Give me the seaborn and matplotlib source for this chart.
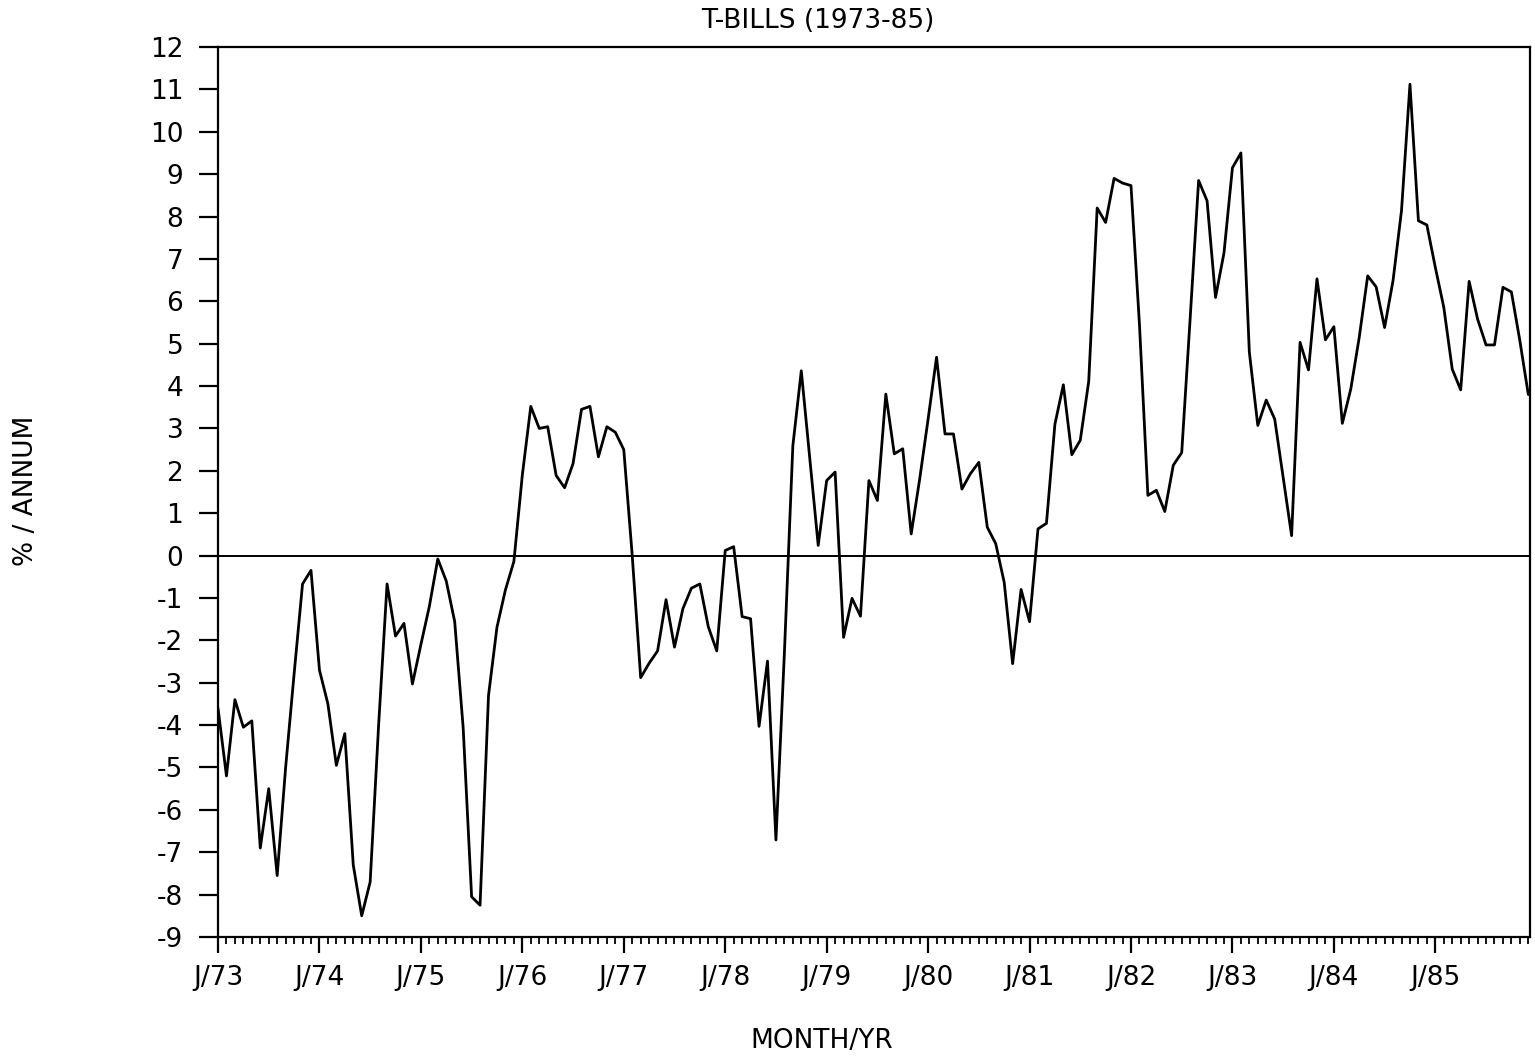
import numpy as np
import pandas as pd
import matplotlib
matplotlib.use("Agg")
import matplotlib.pyplot as plt
import seaborn as sns
from matplotlib.ticker import MultipleLocator, FixedLocator

title = "T-BILLS (1973-85)"
x_label = "MONTH/YR"
y_label = "% / ANNUM"
year_labels = ["J/73", "J/74", "J/75", "J/76", "J/77", "J/78", "J/79",
               "J/80", "J/81", "J/82", "J/83", "J/84", "J/85"]
y_ticks = list(range(-9, 13))

values_1973_75 = [-3.6, -5.2, -3.4, -4.05, -3.9, -6.9, -5.5, -7.55, -5.0, -2.8, -0.67, -0.35,
                  -2.7, -3.5, -4.95, -4.2, -7.3, -8.5, -7.7, -4.0, -0.67, -1.9, -1.6, -3.03,
                  -2.1, -1.2, -0.08, -0.6, -1.56, -4.06, -8.05, -8.25, -3.3, -1.69, -0.81, -0.14]
values_1976_78 = [1.9, 3.52, 3.0, 3.04, 1.89, 1.6, 2.17, 3.45, 3.52, 2.33, 3.04, 2.91,
                  2.5, 0.0, -2.88, -2.54, -2.25, -1.04, -2.16, -1.25, -0.77, -0.67, -1.68, -2.25,
                  0.12, 0.21, -1.44, -1.49, -4.03, -2.49, -6.71, -2.3, 2.59, 4.36, 2.3, 0.24]
values_1979_81 = [1.77, 1.97, -1.93, -1.01, -1.43, 1.77, 1.3, 3.81, 2.4, 2.52, 0.51, 1.8,
                  3.22, 4.68, 2.87, 2.87, 1.57, 1.93, 2.2, 0.67, 0.28, -0.63, -2.55, -0.8,
                  -1.56, 0.63, 0.76, 3.1, 4.03, 2.38, 2.72, 4.11, 8.2, 7.86, 8.9, 8.79]
values_1982_85 = [8.73, 5.46, 1.42, 1.54, 1.04, 2.13, 2.43, 5.6, 8.85, 8.37, 6.09, 7.14,
                  9.15, 9.5, 4.8, 3.07, 3.67, 3.22, 1.85, 0.47, 5.03, 4.38, 6.53, 5.09,
                  5.4, 3.12, 3.93, 5.15, 6.6, 6.34, 5.38, 6.49, 8.14, 11.12, 7.9, 7.8,
                  6.8, 5.86, 4.4, 3.91, 6.47, 5.58, 4.97, 4.97, 6.33, 6.22, 5.07, 3.8]

values = values_1973_75 + values_1976_78 + values_1979_81 + values_1982_85
df = pd.DataFrame({"month": np.arange(len(values)), "rate": values})

sns.set_style("ticks")
plt.rcParams["font.family"] = ["DejaVu Sans"]
plt.rcParams["text.color"] = "black"
plt.rcParams["xtick.color"] = "black"
plt.rcParams["ytick.color"] = "black"
plt.rcParams["axes.labelcolor"] = "black"

W, H = 1535, 1062
fig = plt.figure(figsize=(W / 100, H / 100), dpi=100)
ax = fig.add_axes([218 / W, 1 - 937 / H, (1530 - 218) / W, (937 - 47) / H])

sns.lineplot(data=df, x="month", y="rate", ax=ax, color="black", linewidth=2.0)
ax.axhline(0, color="black", linewidth=1.4)

ax.set_xlim(0, len(values) - 0.8)
ax.set_ylim(-9, 12)
ax.set_yticks(y_ticks)
ax.set_yticklabels([str(v) for v in y_ticks], fontsize=19)
ax.xaxis.set_major_locator(FixedLocator([12 * k for k in range(len(year_labels))]))
ax.set_xticklabels(year_labels, fontsize=19)
ax.xaxis.set_minor_locator(MultipleLocator(1))

ax.tick_params(axis="y", direction="out", length=14, width=1.6, pad=11,
               colors="black", labelcolor="black")
ax.tick_params(axis="x", which="major", direction="out", length=11.5, width=1.6, pad=9,
               colors="black", labelcolor="black")
ax.tick_params(axis="x", which="minor", direction="out", length=5, width=1.3, colors="black")

for s in ax.spines.values():
    s.set_visible(True)
    s.set_linewidth(1.6)
    s.set_color("black")

ax.set_xlabel("")
ax.set_ylabel("")
fig.text(818 / W, 1 - 28 / H, title, fontsize=19, ha="center", va="baseline", color="black")
fig.text(822 / W, 1 - 1048 / H, x_label, fontsize=19, ha="center", va="baseline", color="black")
fig.text(26 / W, 1 - 491 / H, y_label, fontsize=19, ha="center", va="center",
         rotation=90, color="black")

fig.savefig("out.png", dpi=100, facecolor="white")
